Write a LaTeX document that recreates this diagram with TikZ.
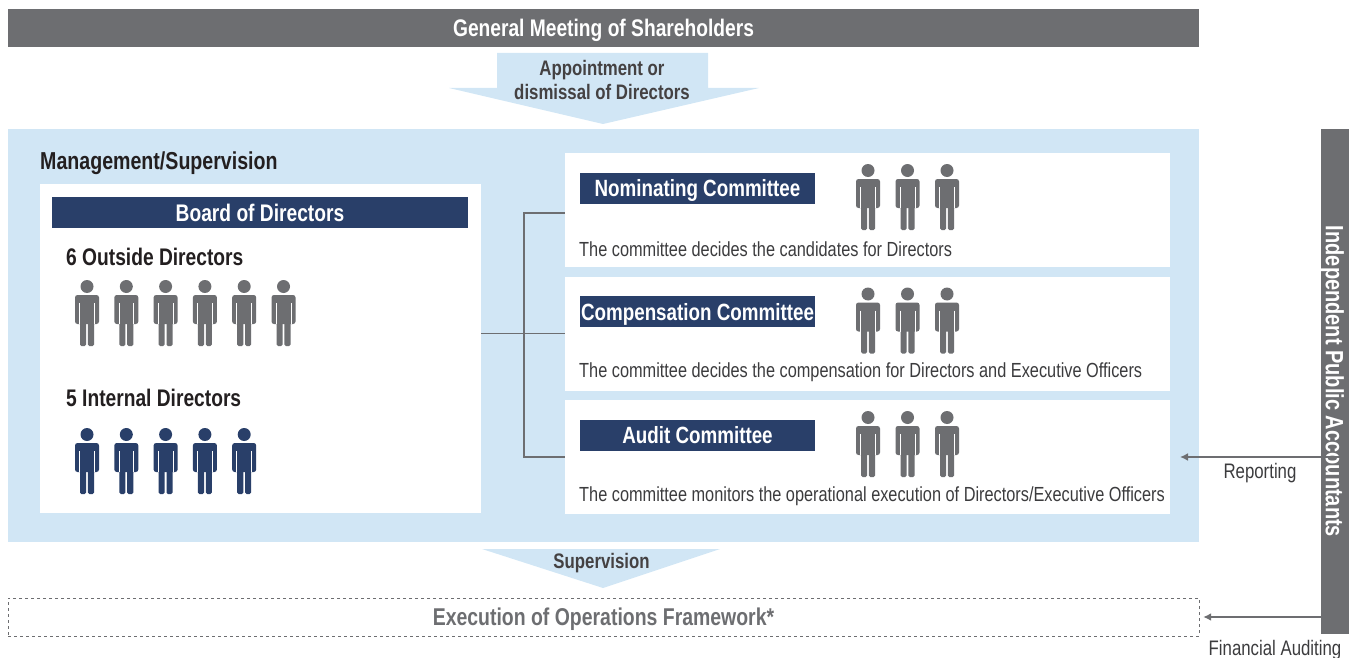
\documentclass[tikz,border=0pt]{standalone}
\usepackage{fontspec}
\setmainfont{Liberation Sans}[FakeStretch=0.8]
\usetikzlibrary{arrows.meta}

\definecolor{bargrey}{HTML}{6D6E71}
\definecolor{paleblue}{HTML}{D1E6F5}
\definecolor{boardnavy}{HTML}{293F69}
\definecolor{inkblack}{HTML}{231F20}
\definecolor{inkgrey}{HTML}{3C3C3E}

\tikzset{
	person/.pic={
		\path [pic actions] (0,6.5) circle (6.5);
		\path [pic actions, rounded corners=2.5pt] (-12,15) rectangle (12,44);
		\path [pic actions, rounded corners=1.5pt] (-7,40) rectangle (-0.9,66);
		\path [pic actions, rounded corners=1.5pt] (0.9,40) rectangle (7,66);
		\draw [white, line width=0.7pt] (-7.4,23) -- (-7.4,44) (7.4,23) -- (7.4,44);
	},
	greybar/.style={fill=bargrey, text=white, font=\fontsize{24}{28}\selectfont\bfseries, inner sep=0pt, text depth=0pt},
	navybar/.style={fill=boardnavy, text=white, minimum width=235pt, minimum height=31pt, inner sep=0pt, text depth=0pt, font=\fontsize{23.5}{27}\selectfont\bfseries},
	whitebox/.style={fill=white, minimum width=605pt, minimum height=114pt, inner sep=0pt},
	heading/.style={anchor=west, inner sep=0pt, text=inkblack, font=\fontsize{24}{28}\selectfont\bfseries},
	desc/.style={anchor=west, inner sep=0pt, text=inkgrey, font=\fontsize{20.4}{24}\selectfont},
	arrowlabel/.style={inner sep=0pt, text=inkblack!85, font=\fontsize{21}{24}\selectfont\bfseries},
	sidelabel/.style={inner sep=0pt, text=inkgrey, font=\fontsize{21}{24}\selectfont},
	link/.style={draw=bargrey, line width=1.6pt},
	feed/.style={draw=bargrey, line width=1.6pt, -{Latex[length=8pt, width=8pt]}}
}

\begin{document}
\begin{tikzpicture}[x=1pt, y=-1pt]
	\useasboundingbox (0,0) rectangle (1349,658);

	% top and framework
	\node [greybar, minimum width=1191pt, minimum height=38pt] (gmsnode) at (603.5,28) {General Meeting of Shareholders};
	\path [fill=paleblue] (497,53) -- (708,53) -- (708,88) -- (759,88) -- (603,124) -- (449,88) -- (497,88) -- cycle;
	\node [arrowlabel, align=center] (appointnode) at (602,80) {Appointment or\\dismissal of Directors};

	\node [fill=paleblue, minimum width=1191pt, minimum height=413pt, inner sep=0pt] (bluebox) at (603.5,335.5) {};
	\node [heading, font=\fontsize{24.5}{28}\selectfont\bfseries] (mgmtnode) at (40,163) {Management/Supervision};

	% board of directors
	\node [fill=white, minimum width=441pt, minimum height=329pt, inner sep=0pt] (boardbox) at (260.5,348.5) {};
	\node [navybar, minimum width=416pt, font=\fontsize{24}{28}\selectfont\bfseries] (boardtitle) at (260,212.5) {Board of Directors};
	\node [heading] (outsidenode) at (66,257) {6 Outside Directors};
	\node [heading] (internalnode) at (66,398) {5 Internal Directors};
	\foreach \px in {87, 126.3, 165.6, 204.9, 244.2, 283.5}{%
		\pic [fill=bargrey] at (\px,280) {person};
	}
	\foreach \px in {87, 126.3, 165.6, 204.9, 244.2}{%
		\pic [fill=boardnavy] at (\px,428) {person};
	}

	% committees
	\foreach \cname/\cy/\ctitle/\ctext in {%
			nom/210/Nominating Committee/{The committee decides the candidates for Directors},%
			comp/333.5/Compensation Committee/{The committee decides the compensation for Directors and Executive Officers},%
			aud/457/Audit Committee/{The committee monitors the operational execution of Directors/Executive Officers}%
	}{%
		\node [whitebox] (\cname box) at (867.5,\cy) {};
		\node [navybar] (\cname title) at (697.5,\cy-22) {\ctitle};
		\node [desc] (\cname text) at (579,\cy+39) {\ctext};
		\foreach \px in {868, 907.5, 947}{%
			\pic [fill=bargrey] at (\px,\cy-46) {person};
		}
	}

	\draw [link] (boardbox.east |- compbox.west) -- (compbox.west);
	\draw [link] ([yshift=-3pt] nombox.west) -- ++(-41,0) |- (audbox.west);

	% supervision and execution
	\path [fill=paleblue] (482,549) -- (720,549) -- (603,588) -- cycle;
	\node [arrowlabel] (supervisionnode) at (601.5,563) {Supervision};
	\node [draw=bargrey, dashed, minimum width=1191pt, minimum height=38pt, inner sep=0pt, text depth=0pt, text=bargrey, font=\fontsize{24.3}{28}\selectfont\bfseries] (execbox) at (603.5,617) {Execution of Operations Framework*};

	% independent public accountants
	\node [greybar, minimum width=505pt, minimum height=28pt, rotate=-90, font=\fontsize{25}{28}\selectfont\bfseries] (iparbar) at (1335,381.5) {Independent Public Accountants};
	\coordinate (reportend) at (1180,457);
	\draw [feed] (iparbar.north |- reportend) -- (reportend);
	\node [sidelabel] (reportnode) at (1260,473) {Reporting};
	\draw [feed, shorten >=4pt] (iparbar.north |- execbox.east) -- (execbox.east);
	\node [sidelabel] (auditnode) at (1275,650) {Financial Auditing};
\end{tikzpicture}
\end{document}
